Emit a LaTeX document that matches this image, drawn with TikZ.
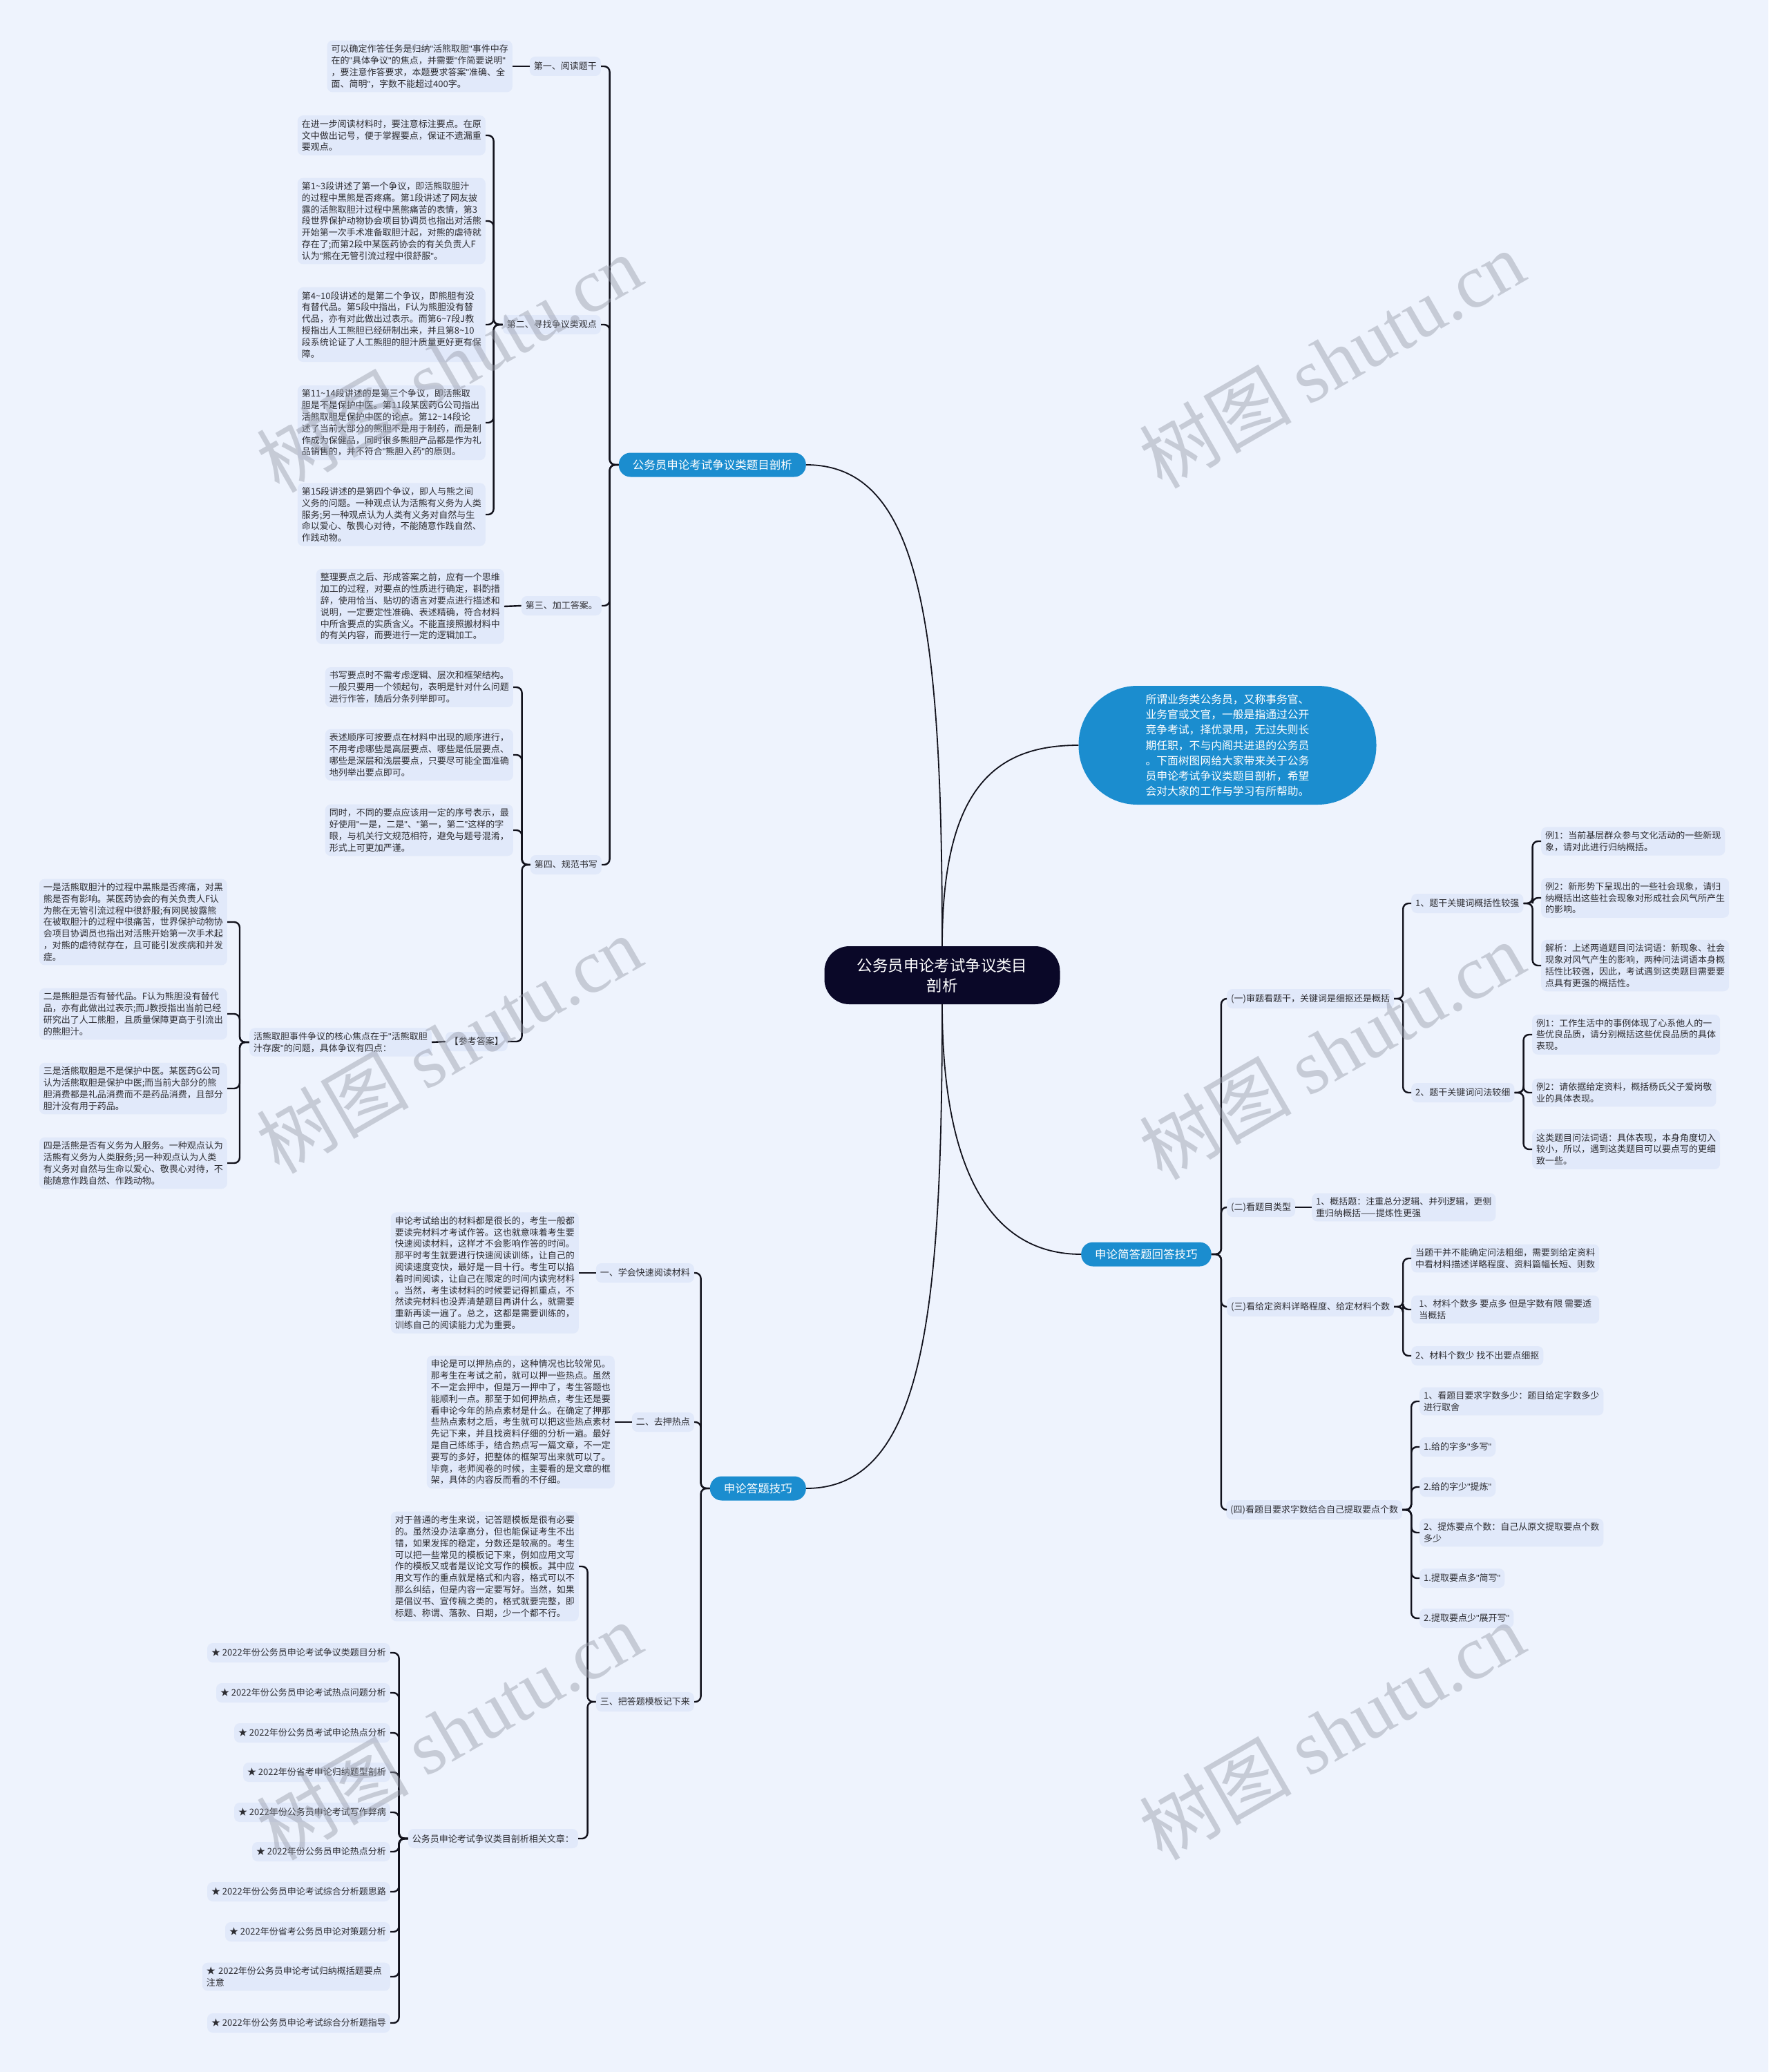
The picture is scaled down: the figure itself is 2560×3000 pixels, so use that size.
\documentclass[tikz,border=0pt]{standalone}
\usepackage{fontspec}
\setmainfont{Noto Sans CJK SC}
\newfontfamily\wmlatin{Liberation Serif}
\newfontfamily\qf{Liberation Sans}
\definecolor{bgc}{RGB}{238,243,253}
\definecolor{boxc}{RGB}{225,233,250}
\definecolor{linec}{RGB}{18,18,28}
\definecolor{bluec}{RGB}{27,141,207}
\definecolor{rootc}{RGB}{10,8,40}
\definecolor{txtc}{RGB}{45,45,50}
\definecolor{wmc}{RGB}{150,155,168}
\newcommand\tld{\textasciitilde}
\newcommand\q{{\qf\symbol{34}}}
\tikzset{
  note/.style={fill=boxc, rounded corners=8pt, inner xsep=6pt, inner ysep=6pt, align=left, font=\fontsize{13}{16.8}\selectfont, text=txtc},
  lbl/.style={note, inner ysep=5pt, minimum height=28pt},
  lone/.style={fill=bluec, text=white, rounded corners=17pt, minimum height=35pt, inner xsep=20pt, font=\fontsize{16.5}{20}\selectfont},
  tree/.style={draw=linec, line width=2.4pt, rounded corners=8pt},
  rootline/.style={draw=linec, line width=1.8pt},
  wm/.style={text=wmc, opacity=0.45, rotate=30, font=\fontsize{110}{110}\selectfont}
}
\begin{document}
\begin{tikzpicture}[x=1pt,y=-1pt]
\fill[bgc] (0,0) rectangle (2560,3000);
\useasboundingbox (0,0) rectangle (2560,3000);

% ---------- root and first level ----------
\node[fill=rootc, text=white, rounded corners=36pt, minimum width=341pt, minimum height=84pt, align=center, font=\fontsize{22.4}{29}\selectfont] (root) at (1364,1412) {公务员申论考试争议类目\\剖析};

\node[fill=bluec, text=white, rounded corners=85pt, minimum width=431pt, minimum height=172pt, align=left, font=\fontsize{15.8}{22.3}\selectfont] (intro) at (1777,1079) {所谓业务类公务员，又称事务官、\\业务官或文官，一般是指通过公开\\竞争考试，择优录用，无过失则长\\期任职，不与内阁共进退的公务员\\。下面树图网给大家带来关于公务\\员申论考试争议类题目剖析，希望\\会对大家的工作与学习有所帮助。};

\node[lone, anchor=east] (la) at (1167,673) {公务员申论考试争议类题目剖析};
\node[lone, anchor=west] (ra) at (1565,1816) {申论简答题回答技巧};
\node[lone, anchor=east] (lb) at (1167,2155) {申论答题技巧};

\draw[rootline] (root.north) .. controls +(0,-470) and +(165,0) .. (la.east);
\draw[rootline] (root.north) .. controls +(0,-230) and +(-120,0) .. (intro.west);
\draw[rootline] (root.south) .. controls +(0,250) and +(-125,0) .. (ra.west);
\draw[rootline] (root.south) .. controls +(0,450) and +(170,0) .. (lb.east);

% ---------- upper left branch ----------
\node[lbl, anchor=east] (l2a) at (870,96) {第一、阅读题干};
\node[lbl, anchor=east] (l2b) at (870,470) {第二、寻找争议类观点};
\node[lbl, anchor=east] (l2c) at (871,877) {第三、加工答案。};
\node[lbl, anchor=east] (l2d) at (871,1252) {第四、规范书写};
\foreach \c in {l2a,l2b,l2c,l2d} \draw[tree] (la.west) -- ++(-13,0) |- (\c.east);

\node[note, anchor=east] (a1) at (742,96) {可以确定作答任务是归纳\q{}活熊取胆\q{}事件中存\\在的\q{}具体争议\q{}的焦点，并需要\q{}作简要说明\q{}\\，要注意作答要求，本题要求答案\q{}准确、全\\面、简明\q{}，字数不能超过400字。};
\draw[tree] (l2a.west) -- (a1.east);

\node[note, anchor=east] (b1) at (703,196) {在进一步阅读材料时，要注意标注要点。在原\\文中做出记号，便于掌握要点，保证不遗漏重\\要观点。};
\node[note, anchor=east] (b2) at (703,320) {第1\tld 3段讲述了第一个争议，即活熊取胆汁\\的过程中黑熊是否疼痛。第1段讲述了网友披\\露的活熊取胆汁过程中黑熊痛苦的表情，第3\\段世界保护动物协会项目协调员也指出对活熊\\开始第一次手术准备取胆汁起，对熊的虐待就\\存在了;而第2段中某医药协会的有关负责人F\\认为\q{}熊在无管引流过程中很舒服\q{}。};
\node[note, anchor=east] (b3) at (703,470) {第4\tld 10段讲述的是第二个争议，即熊胆有没\\有替代品。第5段中指出，F认为熊胆没有替\\代品，亦有对此做出过表示。而第6\tld 7段J教\\授指出人工熊胆已经研制出来，并且第8\tld 10\\段系统论证了人工熊胆的胆汁质量更好更有保\\障。};
\node[note, anchor=east] (b4) at (703,612) {第11\tld 14段讲述的是第三个争议，即活熊取\\胆是不是保护中医。第11段某医药G公司指出\\活熊取胆是保护中医的论点。第12\tld 14段论\\述了当前大部分的熊胆不是用于制药，而是制\\作成为保健品，同时很多熊胆产品都是作为礼\\品销售的，并不符合\q{}熊胆入药\q{}的原则。};
\node[note, anchor=east] (b5) at (703,745) {第15段讲述的是第四个争议，即人与熊之间\\义务的问题。一种观点认为活熊有义务为人类\\服务;另一种观点认为人类有义务对自然与生\\命以爱心、敬畏心对待，不能随意作践自然、\\作践动物。};
\foreach \c in {b1,b2,b3,b4,b5} \draw[tree] (l2b.west) -- ++(-13,0) |- (\c.east);

\node[note, anchor=east] (c1) at (730,878) {整理要点之后、形成答案之前，应有一个思维\\加工的过程，对要点的性质进行确定，斟酌措\\辞，使用恰当、贴切的语言对要点进行描述和\\说明，一定要定性准确、表述精确，符合材料\\中所含要点的实质含义。不能直接照搬材料中\\的有关内容，而要进行一定的逻辑加工。};
\draw[tree] (l2c.west) -- (c1.east);

\node[note, anchor=east] (d1) at (743,995) {书写要点时不需考虑逻辑、层次和框架结构。\\一般只要用一个领起句，表明是针对什么问题\\进行作答，随后分条列举即可。};
\node[note, anchor=east] (d2) at (743,1093) {表述顺序可按要点在材料中出现的顺序进行，\\不用考虑哪些是高层要点、哪些是低层要点、\\哪些是深层和浅层要点，只要尽可能全面准确\\地列举出要点即可。};
\node[note, anchor=east] (d3) at (743,1202) {同时，不同的要点应该用一定的序号表示，最\\好使用\q{}一是，二是\q{}、\q{}第一，第二\q{}这样的字\\眼，与机关行文规范相符，避免与题号混淆，\\形式上可更加严谨。};
\node[lbl, anchor=east] (d4) at (735,1508) {【参考答案】};
\foreach \c in {d1,d2,d3,d4} \draw[tree] (l2d.west) -- ++(-12,0) |- (\c.east);

\node[note, anchor=east] (core) at (625,1509) {活熊取胆事件争议的核心焦点在于\q{}活熊取胆\\汁存废\q{}的问题，具体争议有四点：};
\draw[tree] (d4.west) -- (core.east);

\node[note, anchor=east] (e1) at (329,1335) {一是活熊取胆汁的过程中黑熊是否疼痛，对黑\\熊是否有影响。某医药协会的有关负责人F认\\为熊在无管引流过程中很舒服;有网民披露熊\\在被取胆汁的过程中很痛苦，世界保护动物协\\会项目协调员也指出对活熊开始第一次手术起\\，对熊的虐待就存在，且可能引发疾病和并发\\症。};
\node[note, anchor=east] (e2) at (329,1468) {二是熊胆是否有替代品。F认为熊胆没有替代\\品，亦有此做出过表示;而J教授指出当前已经\\研究出了人工熊胆，且质量保障更高于引流出\\的熊胆汁。};
\node[note, anchor=east] (e3) at (329,1576) {三是活熊取胆是不是保护中医。某医药G公司\\认为活熊取胆是保护中医;而当前大部分的熊\\胆消费都是礼品消费而不是药品消费，且部分\\胆汁没有用于药品。};
\node[note, anchor=east] (e4) at (329,1684) {四是活熊是否有义务为人服务。一种观点认为\\活熊有义务为人类服务;另一种观点认为人类\\有义务对自然与生命以爱心、敬畏心对待，不\\能随意作践自然、作践动物。};
\foreach \c in {e1,e2,e3,e4} \draw[tree] (core.west) -- ++(-14,0) |- (\c.east);

% ---------- lower left branch ----------
\node[lbl, anchor=east] (m1) at (1005,1843) {一、学会快速阅读材料};
\node[lbl, anchor=east] (m2) at (1005,2059) {二、去押热点};
\node[lbl, anchor=east] (m3) at (1005,2464) {三、把答题模板记下来};
\foreach \c in {m1,m2,m3} \draw[tree] (lb.west) -- ++(-13,0) |- (\c.east);

\node[note, anchor=east] (f1) at (838,1843) {申论考试给出的材料都是很长的，考生一般都\\要读完材料才考试作答。这也就意味着考生要\\快速阅读材料，这样才不会影响作答的时间。\\那平时考生就要进行快速阅读训练，让自己的\\阅读速度变快，最好是一目十行。考生可以掐\\着时间阅读，让自己在限定的时间内读完材料\\。当然，考生读材料的时候要记得抓重点，不\\然读完材料也没弄清楚题目再讲什么，就需要\\重新再读一遍了。总之，这都是需要训练的，\\训练自己的阅读能力尤为重要。};
\draw[tree] (m1.west) -- (f1.east);

\node[note, anchor=east] (f2) at (890,2059) {申论是可以押热点的，这种情况也比较常见。\\那考生在考试之前，就可以押一些热点。虽然\\不一定会押中，但是万一押中了，考生答题也\\能顺利一点。那至于如何押热点，考生还是要\\看申论今年的热点素材是什么。在确定了押那\\些热点素材之后，考生就可以把这些热点素材\\先记下来，并且找资料仔细的分析一遍。最好\\是自己练练手，结合热点写一篇文章，不一定\\要写的多好，把整体的框架写出来就可以了。\\毕竟，老师阅卷的时候，主要看的是文章的框\\架，具体的内容反而看的不仔细。};
\draw[tree] (m2.west) -- (f2.east);

\node[note, anchor=east] (f3) at (838,2268) {对于普通的考生来说，记答题模板是很有必要\\的。虽然没办法拿高分，但也能保证考生不出\\错，如果发挥的稳定，分数还是较高的。考生\\可以把一些常见的模板记下来，例如应用文写\\作的模板又或者是议论文写作的模板。其中应\\用文写作的重点就是格式和内容，格式可以不\\那么纠结，但是内容一定要写好。当然，如果\\是倡议书、宣传稿之类的，格式就要完整，即\\标题、称谓、落款、日期，少一个都不行。};
\node[lbl, anchor=east] (rel) at (837,2662) {公务员申论考试争议类目剖析相关文章：};
\foreach \c in {f3,rel} \draw[tree] (m3.west) -- ++(-12,0) |- (\c.east);

\node[lbl, anchor=east] (k1) at (565,2393) {★ 2022年份公务员申论考试争议类题目分析};
\node[lbl, anchor=east] (k2) at (565,2451) {★ 2022年份公务员申论考试热点问题分析};
\node[lbl, anchor=east] (k3) at (565,2509) {★ 2022年份公务员考试申论热点分析};
\node[lbl, anchor=east] (k4) at (565,2566) {★ 2022年份省考申论归纳题型剖析};
\node[lbl, anchor=east] (k5) at (565,2624) {★ 2022年份公务员申论考试写作弊病};
\node[lbl, anchor=east] (k6) at (565,2681) {★ 2022年份公务员申论热点分析};
\node[lbl, anchor=east] (k7) at (565,2739) {★ 2022年份公务员申论考试综合分析题思路};
\node[lbl, anchor=east] (k8) at (565,2797) {★ 2022年份省考公务员申论对策题分析};
\node[note, anchor=east, text width=260pt] (k9) at (565,2862) {★ 2022年份公务员申论考试归纳概括题要点\\注意};
\node[lbl, anchor=east] (k10) at (565,2929) {★ 2022年份公务员申论考试综合分析题指导};
\foreach \c in {k1,k2,k3,k4,k5,k6,k7,k8,k9,k10} \draw[tree] (rel.west) -- ++(-13,0) |- (\c.east);

% ---------- right branch ----------
\node[lbl, anchor=west] (n1) at (1776,1446) {(一)审题看题干，关键词是细抠还是概括};
\node[lbl, anchor=west] (n2) at (1776,1748) {(二)看题目类型};
\node[lbl, anchor=west] (n3) at (1776,1892) {(三)看给定资料详略程度、给定材料个数};
\node[lbl, anchor=west] (n4) at (1775,2186) {(四)看题目要求字数结合自己提取要点个数};
\foreach \c in {n1,n2,n3,n4} \draw[tree] (ra.east) -- ++(14,0) |- (\c.west);

\node[lbl, anchor=west] (p1) at (2043,1308) {1、题干关键词概括性较强};
\node[lbl, anchor=west] (p2) at (2043,1582) {2、题干关键词问法较细};
\foreach \c in {p1,p2} \draw[tree] (n1.east) -- ++(13,0) |- (\c.west);

\node[note, anchor=west] (g1) at (2231,1218) {例1：当前基层群众参与文化活动的一些新现\\象，请对此进行归纳概括。};
\node[note, anchor=west] (g2) at (2231,1300) {例2：新形势下呈现出的一些社会现象，请归\\纳概括出这些社会现象对形成社会风气所产生\\的影响。};
\node[note, anchor=west] (g3) at (2231,1398) {解析：上述两道题目问法词语：新现象、社会\\现象对风气产生的影响，两种问法词语本身概\\括性比较强，因此，考试遇到这类题目需要要\\点具有更强的概括性。};
\foreach \c in {g1,g2,g3} \draw[tree] (p1.east) -- ++(13,0) |- (\c.west);

\node[note, anchor=west] (h1) at (2218,1498) {例1：工作生活中的事例体现了心系他人的一\\些优良品质，请分别概括这些优良品质的具体\\表现。};
\node[note, anchor=west] (h2) at (2218,1582) {例2：请依据给定资料，概括杨氏父子爱岗敬\\业的具体表现。};
\node[note, anchor=west] (h3) at (2218,1664) {这类题目问法词语：具体表现，本身角度切入\\较小，所以，遇到这类题目可以要点写的更细\\致一些。};
\foreach \c in {h1,h2,h3} \draw[tree] (p2.east) -- ++(13,0) |- (\c.west);

\node[note, anchor=west] (q1) at (1899,1748) {1、概括题：注重总分逻辑、并列逻辑，更侧\\重归纳概括——提炼性更强};
\draw[tree] (n2.east) -- (q1.west);

\node[note, anchor=west] (i1) at (2043,1822) {当题干并不能确定问法粗细，需要到给定资料\\中看材料描述详略程度、资料篇幅长短、则数};
\node[note, anchor=west, minimum width=272pt] (i2) at (2043,1896) {1、材料个数多 要点多 但是字数有限 需要适\\当概括};
\node[lbl, anchor=west] (i3) at (2043,1963) {2、材料个数少 找不出要点细抠};
\foreach \c in {i1,i2,i3} \draw[tree] (n3.east) -- ++(13,0) |- (\c.west);

\node[note, anchor=west] (j1) at (2055,2029) {1、看题目要求字数多少：题目给定字数多少\\进行取舍};
\node[lbl, anchor=west] (j2) at (2055,2095) {1.给的字多\q{}多写\q{}};
\node[lbl, anchor=west] (j3) at (2055,2153) {2.给的字少\q{}提炼\q{}};
\node[note, anchor=west] (j4) at (2055,2219) {2、提炼要点个数：自己从原文提取要点个数\\多少};
\node[lbl, anchor=west] (j5) at (2055,2285) {1.提取要点多\q{}简写\q{}};
\node[lbl, anchor=west] (j6) at (2055,2343) {2.提取要点少\q{}展开写\q{}};
\foreach \c in {j1,j2,j3,j4,j5,j6} \draw[tree] (n4.east) -- ++(13,0) |- (\c.west);

% ---------- watermark ----------
\node[wm] (wm1) at (650,526) {树图 {\wmlatin shutu.cn}};
\node[wm] (wm2) at (1928,520) {树图 {\wmlatin shutu.cn}};
\node[wm] (wm3) at (650,1512) {树图 {\wmlatin shutu.cn}};
\node[wm] (wm4) at (1928,1521) {树图 {\wmlatin shutu.cn}};
\node[wm] (wm5) at (650,2506) {树图 {\wmlatin shutu.cn}};
\node[wm] (wm6) at (1928,2506) {树图 {\wmlatin shutu.cn}};
\end{tikzpicture}
\end{document}
